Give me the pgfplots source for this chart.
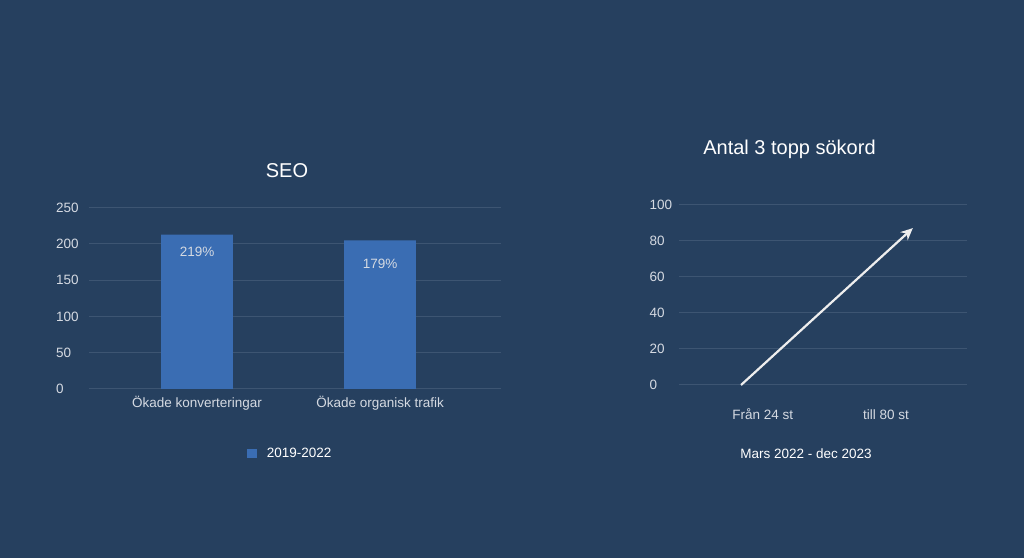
\documentclass[border=0pt]{standalone}
\usepackage{pgfplots}
\pgfplotsset{compat=1.18}
\usepackage{fontspec}
\setmainfont{Liberation Sans}
\usetikzlibrary{arrows.meta}
\definecolor{bg}{HTML}{26405F}
\definecolor{barc}{HTML}{3A6DB3}
\definecolor{gridc}{HTML}{3D5572}
\definecolor{tickc}{HTML}{D5DAE2}
\definecolor{arrowc}{HTML}{EEEEEE}
\begin{document}
\begin{tikzpicture}
\fill[bg] (0bp,0bp) rectangle (1024bp,558bp);
\pgfplotsset{
  every axis/.append style={
    scale only axis,
    axis line style={draw=none},
    major tick style={draw=none},
    ymajorgrids,
    grid style={gridc, line width=1bp},
    tick label style={font=\fontsize{13.5bp}{15bp}\selectfont, text=tickc},
    /pgf/number format/assume math mode=true,
    clip=false,
  }
}
% ---------- Left: SEO ----------
\begin{axis}[
  at={(89.3bp,169bp)}, anchor=south west,
  width=411.7bp, height=181.3bp,
  xmin=-0.589, xmax=1.661, ymin=0, ymax=250,
  ytick={0,50,100,150,200,250},
  xtick={0,1},
  xticklabels={Ökade konverteringar, Ökade organisk trafik},
  yticklabel style={anchor=west, xshift=-33.3bp, inner sep=0pt},
  xticklabel style={yshift=-3bp, text height=12bp, text depth=3bp},
]
\addplot[ybar, bar width=71.7bp, fill=barc, draw=none] coordinates {(0,213) (1,205)};
\node[font=\fontsize{13.5bp}{15bp}\selectfont, text=tickc] at (axis cs:0,189) {219\%};
\node[font=\fontsize{13.5bp}{15bp}\selectfont, text=tickc] at (axis cs:1,172) {179\%};
\end{axis}
\node[font=\fontsize{20bp}{22bp}\selectfont, text=white] at (287bp,387bp) {SEO};
\fill[barc] (246.7bp,100bp) rectangle (256.7bp,109bp);
\node[font=\fontsize{13.5bp}{15bp}\selectfont, text=white, anchor=west, inner sep=0pt] at (266.7bp,105.5bp) {2019-2022};
% ---------- Right: Antal 3 topp sökord ----------
\begin{axis}[
  at={(679bp,173bp)}, anchor=south west,
  width=288.3bp, height=180.3bp,
  xmin=-0.679, xmax=1.659, ymin=0, ymax=100,
  ytick={0,20,40,60,80,100},
  xtick={0,1},
  xticklabels={Från 24 st, till 80 st},
  yticklabel style={anchor=west, xshift=-29.7bp, inner sep=0pt},
  xticklabel style={yshift=-18.5bp, text height=12bp, text depth=3bp},
]
\addplot[draw=arrowc, line width=2.2bp, -{Stealth[length=12bp,width=11bp,inset=4bp]}] coordinates {(-0.176,0) (1.217,87)};
\end{axis}
\node[font=\fontsize{20bp}{22bp}\selectfont, text=white] at (789.5bp,408.5bp) {Antal 3 topp sökord};
\node[font=\fontsize{13.5bp}{15bp}\selectfont, text=white] at (806bp,104.5bp) {Mars 2022 - dec 2023};
\end{tikzpicture}
\end{document}
